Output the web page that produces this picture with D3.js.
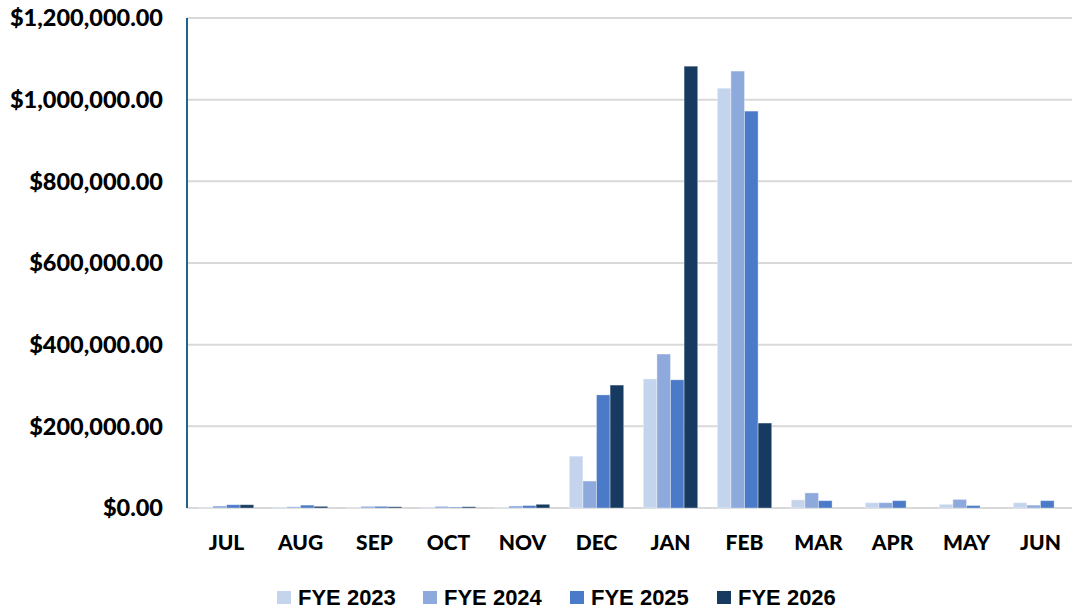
<!DOCTYPE html>
<html>
<head>
<meta charset="utf-8">
<script src="https://cdn.jsdelivr.net/npm/d3@7"></script>
<style>
  html, body { margin: 0; padding: 0; background: #fff; }
  svg { display: block; }
</style>
</head>
<body>
<svg id="chart" width="1072" height="610"></svg>
<script>
const months = ["JUL","AUG","SEP","OCT","NOV","DEC","JAN","FEB","MAR","APR","MAY","JUN"];
const seriesNames = ["FYE 2023","FYE 2024","FYE 2025","FYE 2026"];
const fye2023 = [2000, 2000, 1000, 2000, 1000, 127000, 316000, 1028000, 20000, 13000, 9000, 13000];
const fye2024 = [5000, 3000, 4000, 4000, 5000, 66000, 377000, 1070000, 37000, 13000, 21000, 7000];
const fye2025 = [8000, 7000, 4000, 2000, 6000, 277000, 314000, 972000, 18000, 18000, 6000, 18000];
const fye2026 = [8000, 4000, 3000, 3000, 9000, 301000, 1082000, 208000, 0, 0, 0, 0];
const yTicks = [0, 200000, 400000, 600000, 800000, 1000000, 1200000];
const colors = ["#c5d4ed", "#8eaadc", "#4a7ac8", "#163a60"];
const allSeries = [fye2023, fye2024, fye2025, fye2026];

const svg = d3.select("#chart");
const pLeft = 187, pRight = 1072, pTop = 18, pBottom = 508;

const x = d3.scaleBand().domain(months).range([189.5, 1077.5]).paddingInner(0).paddingOuter(0);
const barGroupW = x.bandwidth() * 0.735;
const x1 = d3.scaleBand().domain(seriesNames).range([0, barGroupW]).padding(0);
const y = d3.scaleLinear().domain([0, 1200000]).range([pBottom, pTop]);

const fmt = v => "$" + d3.format(",.2f")(v);

// gridlines
svg.append("g").selectAll("line").data(yTicks).join("line")
  .attr("x1", pLeft).attr("x2", pRight)
  .attr("y1", d => y(d)).attr("y2", d => y(d))
  .attr("stroke", "#d9d9d9").attr("stroke-width", 2);

// y labels
svg.append("g").selectAll("text").data(yTicks).join("text")
  .attr("x", 163).attr("y", d => y(d)).attr("dy", "0.36em")
  .attr("text-anchor", "end")
  .attr("font-family", "Lato, 'Open Sans', sans-serif")
  .attr("font-weight", "900").attr("font-size", 23.5)
  .attr("fill", "#000")
  .text(fmt);

// bars
const groups = svg.append("g").selectAll("g").data(months).join("g")
  .attr("transform", d => `translate(${x(d) + (x.bandwidth() - barGroupW) / 2},0)`);
groups.selectAll("rect")
  .data((m, i) => seriesNames.map((s, k) => ({ s, k, v: allSeries[k][i] })))
  .join("rect")
  .attr("x", d => x1(d.s))
  .attr("width", x1.bandwidth())
  .attr("y", d => y(d.v))
  .attr("height", d => pBottom - y(d.v))
  .attr("fill", d => colors[d.k])
  .attr("stroke", "#ffffff").attr("stroke-opacity", 0.35).attr("stroke-width", 1);

// y axis line
svg.append("line")
  .attr("x1", pLeft).attr("x2", pLeft)
  .attr("y1", pTop).attr("y2", pBottom)
  .attr("stroke", "#1f6391").attr("stroke-width", 2);

// x labels
svg.append("g").selectAll("text").data(months).join("text")
  .attr("x", d => x(d) + x.bandwidth() / 2)
  .attr("y", 550)
  .attr("text-anchor", "middle")
  .attr("font-family", "Lato, 'Open Sans', sans-serif")
  .attr("font-weight", "900").attr("font-size", 21)
  .attr("fill", "#000")
  .text(d => d);

// legend
const legendX = [277, 423, 570, 717];
const lg = svg.append("g").selectAll("g").data(seriesNames).join("g")
  .attr("transform", (d, i) => `translate(${legendX[i]},597.5)`);
lg.append("rect").attr("x", 0).attr("y", -6.5).attr("width", 14).attr("height", 13)
  .attr("fill", (d, i) => colors[i]);
lg.append("text").attr("x", 21).attr("y", 7)
  .attr("font-family", "'Liberation Sans', Arial, sans-serif")
  .attr("font-weight", "bold").attr("font-size", 22)
  .attr("fill", "#000")
  .text(d => d);
</script>
</body>
</html>
